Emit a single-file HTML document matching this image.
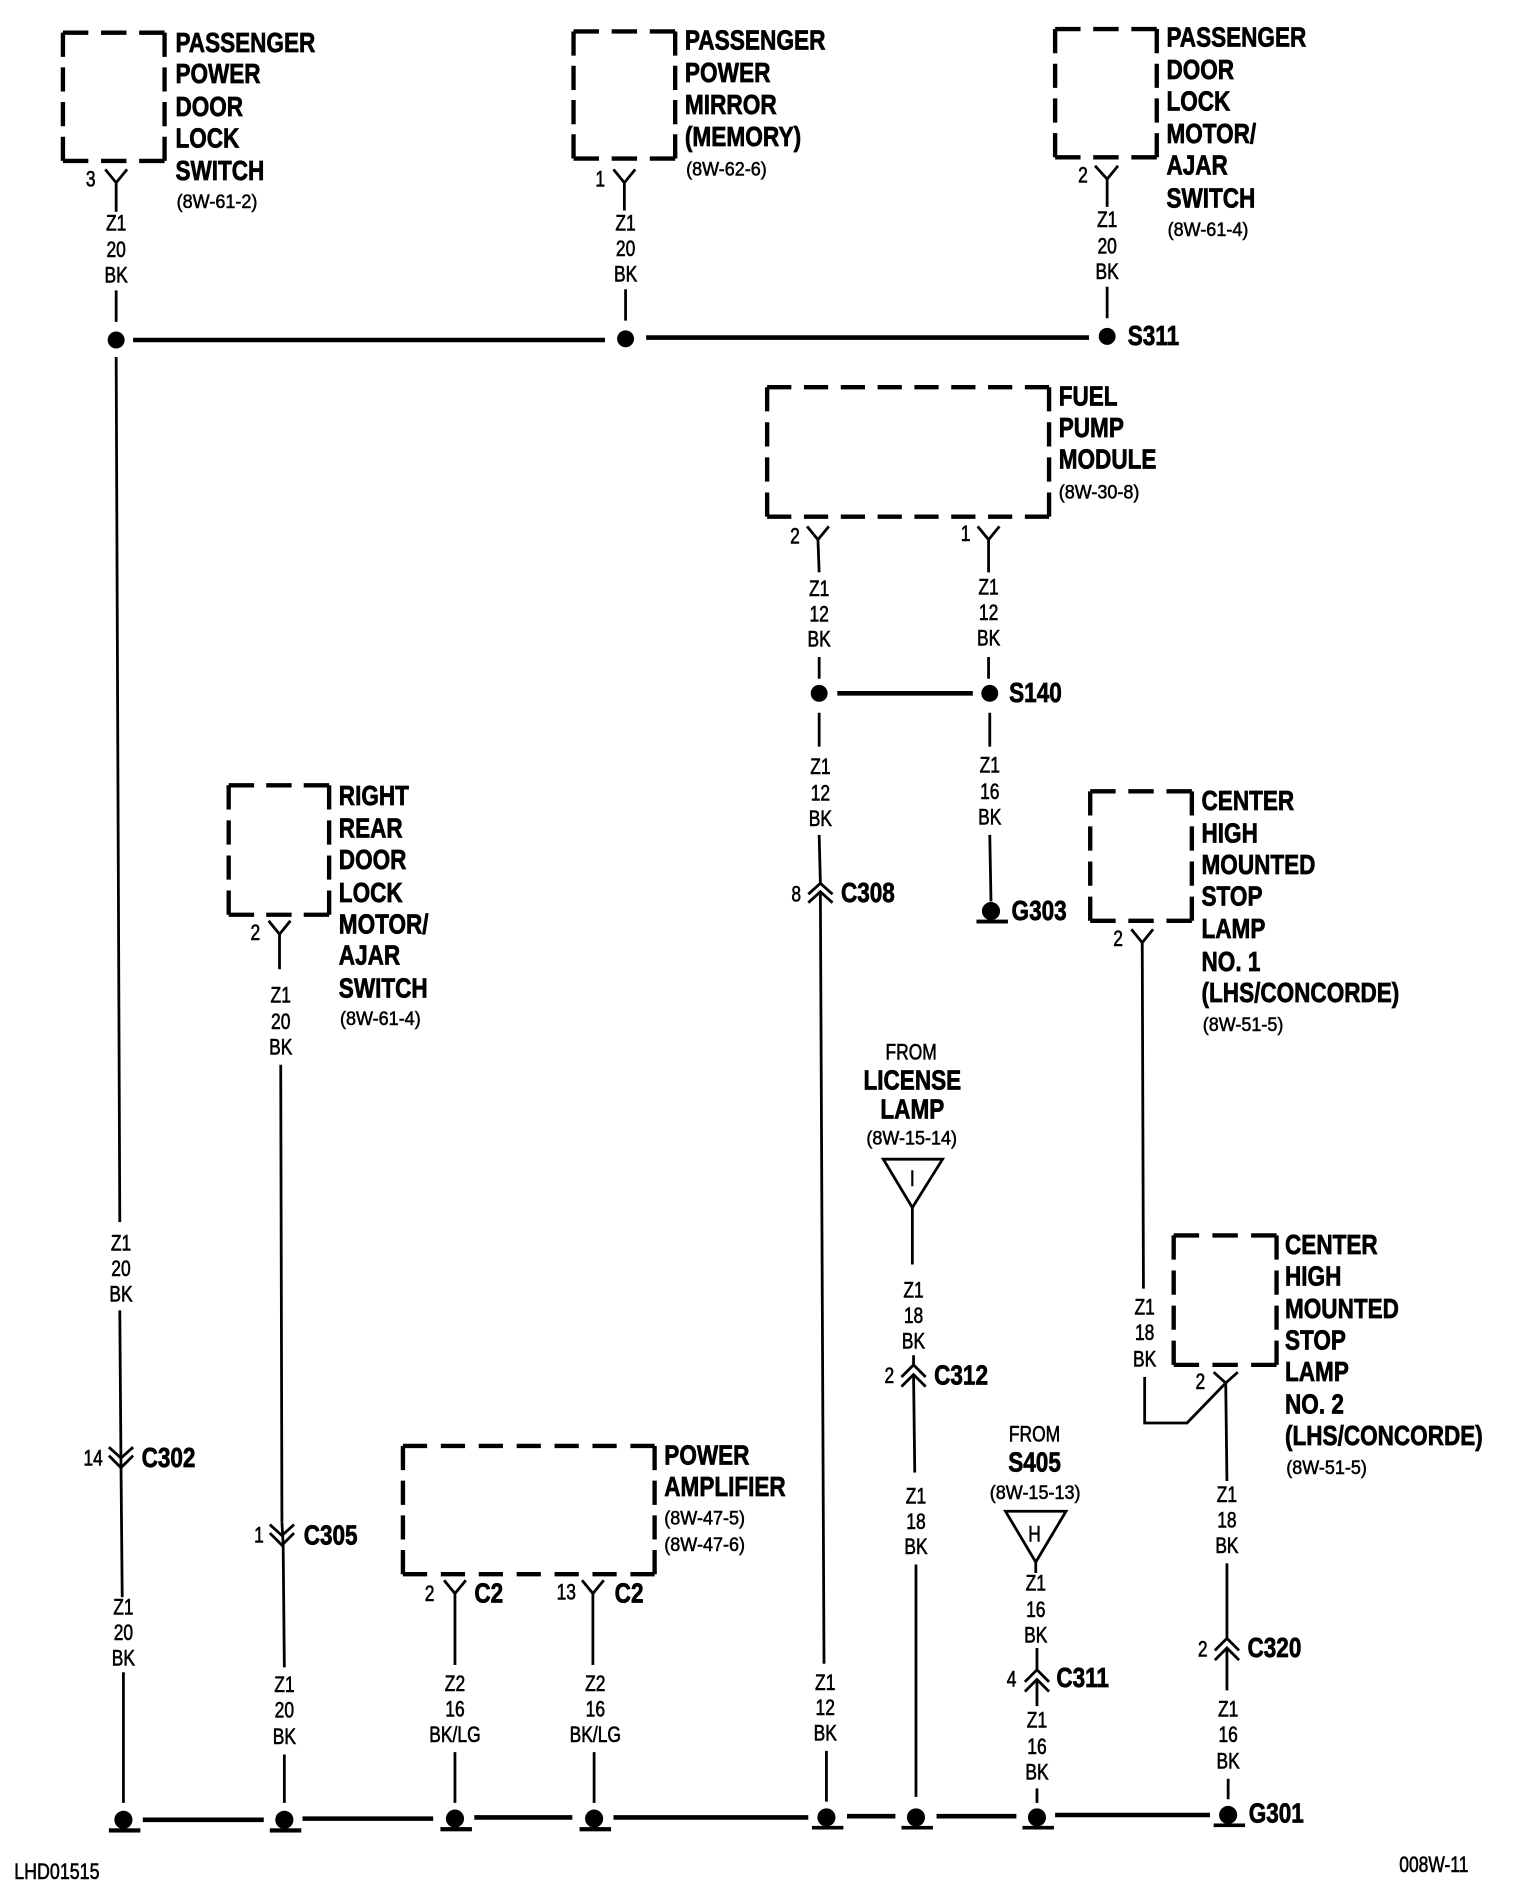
<!DOCTYPE html>
<html><head><meta charset="utf-8"><title>Wiring diagram 008W-11</title>
<style>
html,body{margin:0;padding:0;background:#fff;width:1520px;height:1898px;overflow:hidden}
svg{display:block}
text{font-family:"Liberation Sans",sans-serif;fill:#000}
.b text{font-weight:700;font-size:23px;stroke:#000;stroke-width:.6}
.w text{font-size:18px;text-anchor:middle;stroke:#000;stroke-width:.5}
.r text{font-size:16px;stroke:#000;stroke-width:.45}
.c text{text-anchor:middle}
.l{fill:none;stroke:#000;stroke-width:2.3}
.h{fill:none;stroke:#000;stroke-width:3.8}
.x{fill:none;stroke:#000;stroke-width:3.6}
</style></head><body>
<svg width="1520" height="1898" viewBox="0 0 1256.2 1568.6" xmlns="http://www.w3.org/2000/svg">
<rect width="1257" height="1569" fill="#fff"/>

<!-- dashed boxes -->
<g class="x">
<path stroke-dasharray="21 10.5" d="M52 27H136M52 133H136"/><path stroke-dasharray="20 8.67" d="M52 27V133M136 27V133"/>
<path stroke-dasharray="21 10.5" d="M474 26H558M474 131H558"/><path stroke-dasharray="20 8.33" d="M474 26V131M558 26V131"/>
<path stroke-dasharray="21 10.5" d="M872 24H956M872 130H956"/><path stroke-dasharray="20 8.67" d="M872 24V130M956 24V130"/>
<path stroke-dasharray="20 10.43" d="M634 320H867M634 427H867"/><path stroke-dasharray="20 9" d="M634 320V427M867 320V427"/>
<path stroke-dasharray="21 10" d="M189 649H272M189 756H272"/><path stroke-dasharray="20 9" d="M189 649V756M272 649V756"/>
<path stroke-dasharray="21 10.5" d="M901 654H985M901 761H985"/><path stroke-dasharray="20 9" d="M901 654V761M985 654V761"/>
<path stroke-dasharray="21 11" d="M970 1021H1055M970 1128H1055"/><path stroke-dasharray="20 9" d="M970 1021V1128M1055 1021V1128"/>
<path stroke-dasharray="20 11.33" d="M333 1195H541M333 1301H541"/><path stroke-dasharray="20 8.67" d="M333 1195V1301M541 1195V1301"/>
</g>

<!-- buses -->
<g class="h">
<path d="M110 281H500M534 279H900"/>
<path d="M692 573H804"/>
<path d="M118 1504H218M250 1503H358M392 1502H473M507 1502H668M700 1501H740M774 1501H840M872 1500H1000"/>
</g>

<!-- wires, connectors -->
<g class="l">
<path d="M87 140L96 151L105 140M96 151V175M96 240V266"/>
<path d="M507 140L516 151L525 140M516 151V174M517 239V265"/>
<path d="M905 137L915 148L924 137M915 148V171M915 237V263"/>
<path d="M222 761L231 772L240 761M231 772V801M232 880L233 1258"/>
<path d="M667 435L676 446L685 435M676 446L677 473M677 543V561"/>
<path d="M808 435L817 446L826 435M817 446V473M817 543V561"/>
<path d="M935 768L944 779L953 768M944 779L945 1065"/>
<path d="M367 1306L376 1317L385 1306M376 1317V1376M376 1448V1490"/>
<path d="M481 1306L490 1317L499 1306M490 1317V1376M491 1448V1490"/>
<path d="M1003 1134L1013 1143L1023 1134M1013 1143L1014 1224M946 1138V1176H981L1013 1143"/>

<path d="M96 295L99 1010M99 1083L100 1212M100 1212L101 1320M102 1382V1490"/>
<path d="M90 1196L100 1205L110 1196M90 1203L100 1213L110 1203"/>
<path d="M233 1258L234 1276L235 1378M235 1450V1490"/>
<path d="M223 1260L233 1269L243 1260M223 1267L233 1277L243 1267"/>
<path d="M677 589V617M677 690L678 730M678 738L681 1375M683 1447V1489"/>
<path d="M668 739L678 730L688 739M668 746L678 737L688 746"/>
<path d="M818 589V617M818 690L819 745"/>
<path d="M754 998V1045M755 1120V1128M755 1136L756 1217M757 1293V1485"/>
<path d="M745 1138L755 1128L765 1138M745 1146L755 1136L765 1146"/>
<path d="M856 1291V1300M857 1362V1380M857 1388V1410M857 1478V1490"/>
<path d="M847 1390L857 1380L867 1390M847 1398L857 1388L867 1398"/>
<path d="M1014 1292V1355M1014 1362V1397M1015 1470V1487"/>
<path d="M1004 1364L1014 1354L1024 1364M1004 1372L1014 1362L1024 1372"/>
<path d="M730 958H779L754 998ZM831 1249H881L856 1291Z"/>
</g>

<!-- splice dots -->
<g fill="#000">
<ellipse cx="96" cy="281" rx="7" ry="7"/><ellipse cx="517" cy="280" rx="7" ry="7"/><ellipse cx="915" cy="278" rx="7" ry="7"/>
<ellipse cx="677" cy="573" rx="7" ry="7"/><ellipse cx="818" cy="573" rx="7" ry="7"/>
<!-- grounds -->
<circle cx="102" cy="1504" r="7.5"/><rect x="90" y="1511" width="26" height="3.5"/>
<circle cx="235" cy="1504" r="7.5"/><rect x="223" y="1511" width="26" height="3.5"/>
<circle cx="376" cy="1503" r="7.5"/><rect x="364" y="1510" width="26" height="3.5"/>
<circle cx="491" cy="1503" r="7.5"/><rect x="479" y="1510" width="26" height="3.5"/>
<circle cx="683" cy="1502" r="7.5"/><rect x="671" y="1509" width="26" height="3"/>
<circle cx="757" cy="1502" r="7.5"/><rect x="745" y="1509" width="26" height="3"/>
<circle cx="857" cy="1502" r="7.5"/><rect x="845" y="1509" width="26" height="3"/>
<circle cx="1015" cy="1500" r="7.5"/><rect x="1003" y="1507" width="26" height="3"/>
<circle cx="819" cy="753" r="7.5"/><rect x="807" y="760" width="26" height="3.2"/>
</g>

<!-- bold blocks -->
<g transform="translate(0 -.7)">
<g class="b" transform="translate(145 0) scale(.81 1)"><text y="43.5">PASSENGER</text><text y="69.5">POWER</text><text y="96.5">DOOR</text><text y="122.5">LOCK</text><text y="149.5">SWITCH</text></g>
<g class="b" transform="translate(566 0) scale(.815 1)"><text y="41.5">PASSENGER</text><text y="68.5">POWER</text><text y="95">MIRROR</text><text y="121.5">(MEMORY)</text></g>
<g class="b" transform="translate(964 0) scale(.81 1)"><text y="39">PASSENGER</text><text y="66">DOOR</text><text y="92">LOCK</text><text y="119">MOTOR/</text><text y="145">AJAR</text><text y="172">SWITCH</text></g>
<g class="b" transform="translate(932 0) scale(.81 1)"><text y="286">S311</text></g>
<g class="b" transform="translate(875 0) scale(.81 1)"><text y="336">FUEL</text><text y="362">PUMP</text><text y="388">MODULE</text></g>
<g class="b" transform="translate(834 0) scale(.81 1)"><text y="581">S140</text></g>
<g class="b" transform="translate(280 0) scale(.81 1)"><text y="666">RIGHT</text><text y="693">REAR</text><text y="719">DOOR</text><text y="746">LOCK</text><text y="772">MOTOR/</text><text y="798">AJAR</text><text y="825">SWITCH</text></g>
<g class="b" transform="translate(695 0) scale(.81 1)"><text y="746">C308</text></g>
<g class="b" transform="translate(836 0) scale(.81 1)"><text y="761">G303</text></g>
<g class="b" transform="translate(993 0) scale(.81 1)"><text y="670">CENTER</text><text y="697">HIGH</text><text y="723">MOUNTED</text><text y="749">STOP</text><text y="776">LAMP</text><text y="803">NO. 1</text><text y="829">(LHS/CONCORDE)</text></g>
<g class="b" transform="translate(1062 0) scale(.81 1)"><text y="1037">CENTER</text><text y="1063">HIGH</text><text y="1090">MOUNTED</text><text y="1116">STOP</text><text y="1142">LAMP</text><text y="1169">NO. 2</text><text y="1195">(LHS/CONCORDE)</text></g>
<g class="b" transform="translate(549 0) scale(.81 1)"><text y="1211">POWER</text><text y="1237">AMPLIFIER</text></g>
<g class="b c" transform="translate(754 0) scale(.81 1)"><text y="901">LICENSE</text><text y="925">LAMP</text></g>
<g class="b c" transform="translate(855 0) scale(.81 1)"><text y="1217">S405</text></g>
<g class="b" transform="translate(117 0) scale(.81 1)"><text y="1213">C302</text></g>
<g class="b" transform="translate(251 0) scale(.81 1)"><text y="1277">C305</text></g>
<g class="b" transform="translate(392 0) scale(.81 1)"><text y="1325">C2</text></g>
<g class="b" transform="translate(508 0) scale(.81 1)"><text y="1325">C2</text></g>
<g class="b" transform="translate(772 0) scale(.81 1)"><text y="1145">C312</text></g>
<g class="b" transform="translate(873 0) scale(.81 1)"><text y="1395">C311</text></g>
<g class="b" transform="translate(1031 0) scale(.81 1)"><text y="1370">C320</text></g>
<g class="b" transform="translate(1032 0) scale(.81 1)"><text y="1507">G301</text></g>
</g>

<!-- references -->
<g class="r">
<text transform="translate(146 172) scale(.93 1)">(8W-61-2)</text>
<text transform="translate(567 145) scale(.93 1)">(8W-62-6)</text>
<text transform="translate(965 195) scale(.93 1)">(8W-61-4)</text>
<text transform="translate(875 412) scale(.93 1)">(8W-30-8)</text>
<text transform="translate(281 847) scale(.93 1)">(8W-61-4)</text>
<text transform="translate(994 852) scale(.93 1)">(8W-51-5)</text>
<text transform="translate(1063 1218) scale(.93 1)">(8W-51-5)</text>
<text transform="translate(549 1260) scale(.93 1)">(8W-47-5)</text>
<text transform="translate(549 1282) scale(.93 1)">(8W-47-6)</text>
<text transform="translate(716 946) scale(.93 1)">(8W-15-14)</text>
<text transform="translate(818 1239) scale(.93 1)">(8W-15-13)</text>
</g>

<!-- wire labels -->
<g class="w" transform="translate(96 0) scale(.8 1)"><text y="190.5">Z1</text><text y="212.5">20</text><text y="233.5">BK</text></g>
<g class="w" transform="translate(517 0) scale(.8 1)"><text y="190.5">Z1</text><text y="211.5">20</text><text y="232.5">BK</text></g>
<g class="w" transform="translate(915 0) scale(.8 1)"><text y="187.5">Z1</text><text y="209.5">20</text><text y="230.5">BK</text></g>
<g class="w" transform="translate(100 0) scale(.8 1)"><text y="1033.5">Z1</text><text y="1054.5">20</text><text y="1075.5">BK</text></g>
<g class="w" transform="translate(102 0) scale(.8 1)"><text y="1334.5">Z1</text><text y="1355.5">20</text><text y="1376.5">BK</text></g>
<g class="w" transform="translate(232 0) scale(.8 1)"><text y="828.5">Z1</text><text y="850.5">20</text><text y="871.5">BK</text></g>
<g class="w" transform="translate(235 0) scale(.8 1)"><text y="1398.5">Z1</text><text y="1419.5">20</text><text y="1441.5">BK</text></g>
<g class="w" transform="translate(376 0) scale(.8 1)"><text y="1397.5">Z2</text><text y="1418.5">16</text><text y="1439.5">BK/LG</text></g>
<g class="w" transform="translate(492 0) scale(.8 1)"><text y="1397.5">Z2</text><text y="1418.5">16</text><text y="1439.5">BK/LG</text></g>
<g class="w" transform="translate(677 0) scale(.8 1)"><text y="492.5">Z1</text><text y="513.5">12</text><text y="534.5">BK</text></g>
<g class="w" transform="translate(817 0) scale(.8 1)"><text y="491.5">Z1</text><text y="512.5">12</text><text y="533.5">BK</text></g>
<g class="w" transform="translate(678 0) scale(.8 1)"><text y="639.5">Z1</text><text y="661.5">12</text><text y="682.5">BK</text></g>
<g class="w" transform="translate(818 0) scale(.8 1)"><text y="638.5">Z1</text><text y="660.5">16</text><text y="681.5">BK</text></g>
<g class="w" transform="translate(682 0) scale(.8 1)"><text y="1396.5">Z1</text><text y="1417.5">12</text><text y="1438.5">BK</text></g>
<g class="w" transform="translate(755 0) scale(.8 1)"><text y="1072.5">Z1</text><text y="1093.5">18</text><text y="1114.5">BK</text></g>
<g class="w" transform="translate(757 0) scale(.8 1)"><text y="1242.5">Z1</text><text y="1263.5">18</text><text y="1284.5">BK</text></g>
<g class="w" transform="translate(856 0) scale(.8 1)"><text y="1314.5">Z1</text><text y="1336.5">16</text><text y="1357.5">BK</text></g>
<g class="w" transform="translate(857 0) scale(.8 1)"><text y="1427.5">Z1</text><text y="1449.5">16</text><text y="1470.5">BK</text></g>
<g class="w" transform="translate(946 0) scale(.8 1)"><text y="1086.5">Z1</text><text y="1107.5">18</text><text y="1129.5">BK</text></g>
<g class="w" transform="translate(1014 0) scale(.8 1)"><text y="1241.5">Z1</text><text y="1262.5">18</text><text y="1283.5">BK</text></g>
<g class="w" transform="translate(1015 0) scale(.8 1)"><text y="1418.5">Z1</text><text y="1439.5">16</text><text y="1461.5">BK</text></g>

<!-- pin numbers and misc -->
<g class="w" transform="translate(75 0) scale(.8 1)"><text y="154">3</text></g>
<g class="w" transform="translate(496 0) scale(.8 1)"><text y="154">1</text></g>
<g class="w" transform="translate(895 0) scale(.8 1)"><text y="151">2</text></g>
<g class="w" transform="translate(211 0) scale(.8 1)"><text y="777">2</text></g>
<g class="w" transform="translate(657 0) scale(.8 1)"><text y="449">2</text></g>
<g class="w" transform="translate(798 0) scale(.8 1)"><text y="447">1</text></g>
<g class="w" transform="translate(658 0) scale(.8 1)"><text y="745">8</text></g>
<g class="w" transform="translate(924 0) scale(.8 1)"><text y="782">2</text></g>
<g class="w" transform="translate(992 0) scale(.8 1)"><text y="1148">2</text></g>
<g class="w" transform="translate(77 0) scale(.8 1)"><text y="1211">14</text></g>
<g class="w" transform="translate(214 0) scale(.8 1)"><text y="1275">1</text></g>
<g class="w" transform="translate(355 0) scale(.8 1)"><text y="1323">2</text></g>
<g class="w" transform="translate(468 0) scale(.8 1)"><text y="1322">13</text></g>
<g class="w" transform="translate(735 0) scale(.8 1)"><text y="1143">2</text></g>
<g class="w" transform="translate(836 0) scale(.8 1)"><text y="1394">4</text></g>
<g class="w" transform="translate(994 0) scale(.8 1)"><text y="1369">2</text></g>
<g class="w" transform="translate(753 0) scale(.8 1)"><text y="875.5">FROM</text></g>
<g class="w" transform="translate(855 0) scale(.8 1)"><text y="1191.5">FROM</text></g>
<g class="w" transform="translate(754 0) scale(.8 1)"><text y="980">I</text></g>
<g class="w" transform="translate(855 0) scale(.8 1)"><text y="1274">H</text></g>
<g class="w" transform="translate(47 0) scale(.82 1)"><text y="1553">LHD01515</text></g>
<g class="w" transform="translate(1185 0) scale(.8 1)"><text y="1547">008W-11</text></g>
</svg>
</body></html>
